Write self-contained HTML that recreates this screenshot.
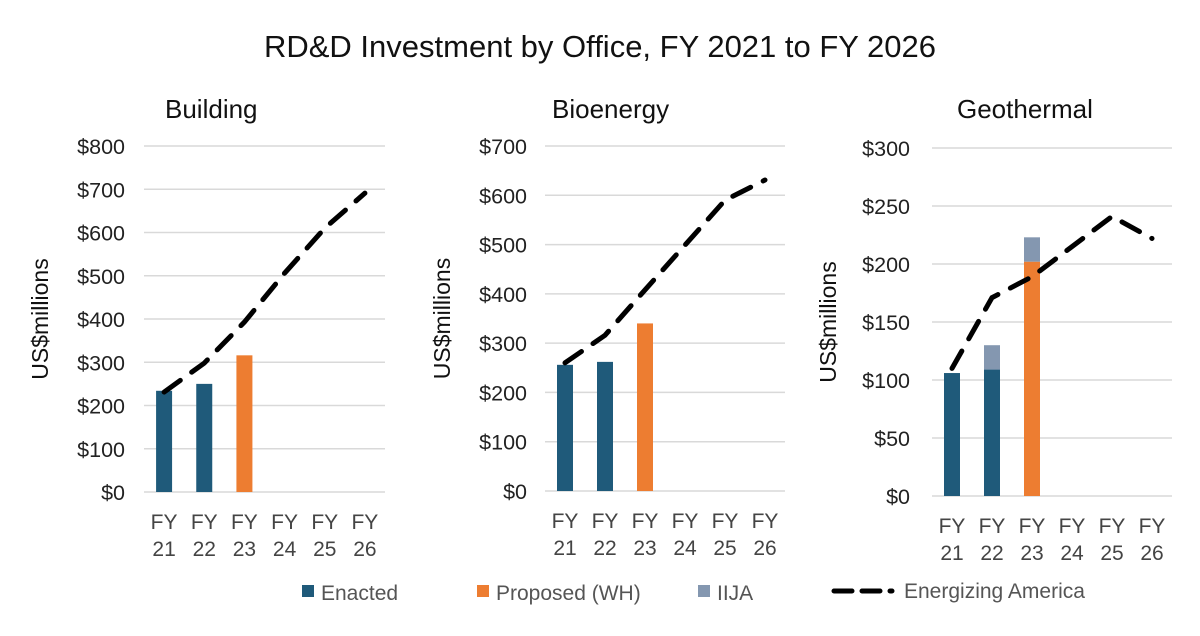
<!DOCTYPE html>
<html><head><meta charset="utf-8"><style>
body{margin:0;background:#fff;}
svg{display:block;font-family:"Liberation Sans",sans-serif;}
</style></head><body>
<svg id="c" width="1200" height="636">
<text x="600" y="57" text-anchor="middle" font-size="31" fill="#111">RD&amp;D Investment by Office, FY 2021 to FY 2026</text>
</svg>
<script>
const categories = ["21","22","23","24","25","26"];
const buildingEnacted = [234,250,null,null,null,null];
const buildingProposed = [null,null,316,null,null,null];
const buildingIija = [null,null,null,null,null,null];
const buildingLine = [231,298,393,506,610,691];
const bioEnacted = [256,262,null,null,null,null];
const bioProposed = [null,null,340,null,null,null];
const bioIija = [null,null,null,null,null,null];
const bioLine = [260,316,408,499,590,631];
const geoEnacted = [106,109,null,null,null,null];
const geoProposed = [null,null,202,null,null,null];
const geoIija = [null,21,21,null,null,null];
const geoLine = [110,171,189,215,241,222];
const buildingTicks = [0,100,200,300,400,500,600,700,800];
const bioTicks = [0,100,200,300,400,500,600,700];
const geoTicks = [0,50,100,150,200,250,300];

const NS="http://www.w3.org/2000/svg";
const svg=document.getElementById('c');
function mk(tag,attrs,parent){const e=document.createElementNS(NS,tag);for(const k in attrs)e.setAttribute(k,attrs[k]);(parent||svg).appendChild(e);return e;}

function panel(key,title,titleX,x0,x1,yTop,yBot,ticks,enacted,proposed,iija,line,labelX,axisTitleX){
  const g=mk('g',{});
  
  
  const max=ticks[ticks.length-1];
  const y=v=>yBot-(v/max)*(yBot-yTop);
  const band=(x1-x0)/categories.length;
  const cx=i=>x0+band*(i+0.5);
  const t=mk('text',{x:titleX,y:118,'font-size':26,fill:'#111'},g);t.textContent=title;
  
  const at=mk('text',{transform:`translate(${axisTitleX},${(yTop+yBot)/2}) rotate(-90)`,'text-anchor':'middle','font-size':23,fill:'#111'},g);at.textContent='US$millions';
  
  ticks.forEach(v=>{
    const l=mk('line',{x1:x0,x2:x1,y1:y(v),y2:y(v),stroke:'#d9d9d9','stroke-width':1.5},g);
    
    const tx=mk('text',{x:labelX,y:y(v)+8,'text-anchor':'end','font-size':21.5,fill:'#222'},g);tx.textContent='$'+v;
    
  });
  const bw=16;
  categories.forEach((c,i)=>{
    let base=0;
    if(enacted[i]!=null){const r=mk('rect',{x:cx(i)-bw/2,y:y(enacted[i]),width:bw,height:y(0)-y(enacted[i]),fill:'#1f5a7a'},g);
      base=enacted[i];}
    if(proposed[i]!=null){const r=mk('rect',{x:cx(i)-bw/2,y:y(base+proposed[i]),width:bw,height:y(base)-y(base+proposed[i]),fill:'#ed7d31'},g);
      base+=proposed[i];}
    if(iija[i]!=null){const r=mk('rect',{x:cx(i)-bw/2,y:y(base+iija[i]),width:bw,height:y(base)-y(base+iija[i]),fill:'#8497b0'},g);
      }
    const f=mk('text',{x:cx(i),y:yBot+37,'text-anchor':'middle','font-size':21,fill:'#444'},g);f.textContent='FY';
    
    const n=mk('text',{x:cx(i),y:yBot+64,'text-anchor':'middle','font-size':21,fill:'#444'},g);n.textContent=c;
    
  });
  const pts=line.map((v,i)=>cx(i)+','+y(v)).join(' ');
  const pl=mk('polyline',{points:pts,fill:'none',stroke:'#000','stroke-width':5,'stroke-dasharray':'20 14','stroke-linecap':'round'},g);
  
}
panel('building','Building',165,144,385,146,492,buildingTicks,buildingEnacted,buildingProposed,buildingIija,buildingLine,125,48);
panel('bioenergy','Bioenergy',552,545,785,146,491,bioTicks,bioEnacted,bioProposed,bioIija,bioLine,527,450);
panel('geothermal','Geothermal',957,932,1172,148,496,geoTicks,geoEnacted,geoProposed,geoIija,geoLine,910,836);

const lg=mk('g',{});


[['Enacted','#1f5a7a',302],['Proposed (WH)','#ed7d31',477],['IIJA','#8497b0',698]].forEach(([n,c,x])=>{
  const r=mk('rect',{x:x,y:585,width:12,height:12,fill:c},lg);
  
  const t=mk('text',{x:x+19,y:600,'font-size':21,fill:'#555'},lg);t.textContent=n;
  
});
const ll=mk('line',{x1:834,x2:892,y1:591,y2:591,stroke:'#000','stroke-width':5,'stroke-dasharray':'18 10','stroke-linecap':'round'},lg);

const lt=mk('text',{x:904,y:598,'font-size':21,fill:'#555'},lg);lt.textContent='Energizing America';

</script>
</body></html>
